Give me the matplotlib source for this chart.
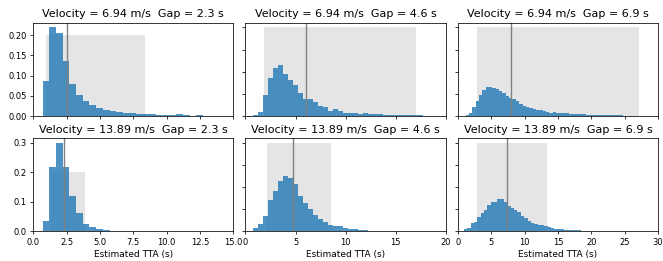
import numpy as np
import matplotlib.pyplot as plt
from matplotlib.ticker import MultipleLocator

# scenario settings (rows = velocity, columns = gap)
velocities = [6.94, 13.89]
gaps = [2.3, 4.6, 6.9]
bin_width = 0.5

# fraction of samples per 0.5 s bin
h_v1_g1 = [0.086, 0.219, 0.204, 0.136, 0.080, 0.053, 0.038, 0.028, 0.020, 0.015,
           0.012, 0.0105, 0.008, 0.007, 0.0057, 0.005, 0.004, 0.0035, 0.003, 0.0025,
           0.004, 0.0015, 0.001, 0.0025, 0.001, 0.0005]
h_v1_g2 = [0.003, 0.009, 0.047, 0.085, 0.108, 0.115, 0.096, 0.081, 0.070, 0.051,
           0.039, 0.0375, 0.031, 0.0235, 0.020, 0.0125, 0.016, 0.011, 0.008, 0.0066,
           0.006, 0.0037, 0.006, 0.005, 0.0044, 0.0037, 0.003, 0.003, 0.0025, 0.0025,
           0.002, 0.002, 0.0015, 0.0015, 0.001, 0.001]
h_v1_g3 = [0.002, 0.0066, 0.020, 0.033, 0.048, 0.058, 0.065, 0.065, 0.064, 0.060,
           0.057, 0.051, 0.045, 0.040, 0.0375, 0.0345, 0.027, 0.0235, 0.0206, 0.018,
           0.017, 0.0147, 0.013, 0.0125, 0.0088, 0.008, 0.0088, 0.008, 0.007, 0.0066,
           0.006, 0.0055, 0.005, 0.0045, 0.004, 0.004, 0.0035, 0.003, 0.003, 0.0028,
           0.0025, 0.0022, 0.002, 0.002, 0.0018, 0.0015, 0.0015, 0.0012, 0.001, 0.001,
           0.0008, 0.0008]
h_v2_g1 = [0.033, 0.216, 0.300, 0.218, 0.118, 0.061, 0.026, 0.014, 0.009, 0.0044,
           0.002]
h_v2_g2 = [0.0066, 0.016, 0.034, 0.0706, 0.090, 0.114, 0.124, 0.1206, 0.106, 0.079,
           0.063, 0.051, 0.036, 0.0287, 0.0213, 0.014, 0.0118, 0.011, 0.0066, 0.005,
           0.0044, 0.003, 0.002]
h_v2_g3 = [0.0015, 0.0044, 0.008, 0.0176, 0.021, 0.032, 0.041, 0.049, 0.060, 0.066,
           0.067, 0.073, 0.073, 0.065, 0.057, 0.053, 0.0485, 0.043, 0.035, 0.029,
           0.0235, 0.0176, 0.0154, 0.0147, 0.013, 0.0118, 0.0088, 0.0074, 0.006, 0.005,
           0.0044, 0.0037, 0.003, 0.003, 0.002, 0.002]

heights = [[h_v1_g1, h_v1_g2, h_v1_g3], [h_v2_g1, h_v2_g2, h_v2_g3]]
first_edge = [[0.72, 0.73, 1.2], [0.72, 0.73, 0.45]]

# vertical reference line and shaded band
line_x = [[2.5, 6.07, 7.96], [2.31, 4.73, 7.45]]
band_lo = [[0.97, 1.9, 2.84], [1.3, 2.13, 2.84]]
band_hi = [[8.36, 17.07, 27.2], [3.9, 8.5, 13.4]]
band_height = 0.2

xmax = [15, 20, 30]
xstep = [2.5, 5, 5]

fig, axes = plt.subplots(2, 3, figsize=(6.63, 2.61), dpi=100, sharex='col')
fig.subplots_adjust(left=0.05, right=0.9925, top=0.912, bottom=0.114,
                    wspace=0.06, hspace=0.237)

for r in range(2):
    for c in range(3):
        ax = axes[r, c]
        h = heights[r][c]
        edges = first_edge[r][c] + bin_width * np.arange(len(h) + 1)

        ax.bar(band_lo[r][c], band_height, width=band_hi[r][c] - band_lo[r][c],
               align='edge', color='grey', alpha=0.2, linewidth=0)
        ax.hist(edges[:-1], bins=edges, weights=h, color='C0', alpha=0.8)
        ax.axvline(line_x[r][c], color='grey', linewidth=1.0)

        ax.set_xlim(0, xmax[c])
        ax.xaxis.set_major_locator(MultipleLocator(xstep[c]))
        if r == 1 and c == 0:
            ax.yaxis.set_major_locator(MultipleLocator(0.1))
        else:
            ax.yaxis.set_major_locator(MultipleLocator(0.05))

        ax.set_title(f'Velocity = {velocities[r]:.2f} m/s  Gap = {gaps[c]} s',
                     fontsize=8, pad=4)
        ax.tick_params(labelsize=6, length=2.3, width=0.55, pad=2.3)
        if c > 0:
            ax.tick_params(labelleft=False)
        for s in ax.spines.values():
            s.set_linewidth(0.55)
        if r == 1:
            ax.set_xlabel('Estimated TTA (s)', fontsize=6.5, labelpad=2.6)

plt.savefig('out.png', dpi=100)
